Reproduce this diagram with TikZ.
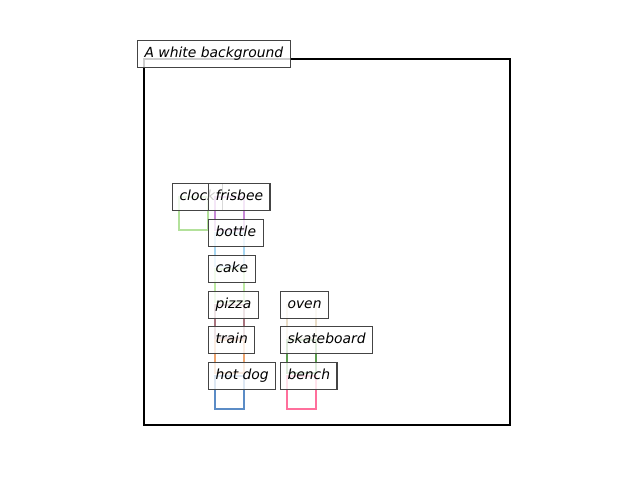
\documentclass[tikz,border=0pt]{standalone}
\usepackage{fontspec}
\setmainfont{DejaVu Sans}
\definecolor{clockc}{HTML}{B3E19B}
\definecolor{frisbeec}{HTML}{C98AD8}
\definecolor{bottlec}{HTML}{A5D6F2}
\definecolor{cakec}{HTML}{BDEBA3}
\definecolor{pizzac}{HTML}{A8747E}
\definecolor{trainc}{HTML}{EFA56E}
\definecolor{hotdogc}{HTML}{5B8CC6}
\definecolor{ovenc}{HTML}{E9DCC6}
\definecolor{skateboardc}{HTML}{5C9E4F}
\definecolor{benchc}{HTML}{FF6F9C}
\definecolor{edgec}{HTML}{444444}
\tikzset{
  tag/.style={draw=edgec, line width=0.8pt, fill=white, fill opacity=0.8, text opacity=1,
    anchor=west, font=\fontsize{10pt}{12pt}\selectfont\itshape,
    inner xsep=5pt, inner ysep=0pt, minimum height=19.6pt, text height=7.6pt, text depth=2.4pt},
  bbox/.style={line width=1.7pt},
}
\begin{document}
\begin{tikzpicture}[%
x=0.72pt, y=-0.72pt,
]
\useasboundingbox (0,0) rectangle (640,480);
%% frame;
\draw [line width=1.4pt, black] (144,59) rectangle (510,425);
\node [tag] (title) at (137,54) {A white background};
%% clock;
\draw [bbox, clockc] (179,197) rectangle ++(29,33);
\node [tag] (clock) at (172,197) {clock};
%% frisbee;
\draw [bbox, frisbeec] (215,197) rectangle ++(29,33);
\node [tag] (frisbee) at (208,197) {frisbee};
%% bottle;
\draw [bbox, bottlec] (215,233) rectangle ++(29,33);
\node [tag] (bottle) at (208,233) {bottle};
%% cake;
\draw [bbox, cakec] (215,269) rectangle ++(29,33);
\node [tag] (cake) at (208,269) {cake};
%% pizza;
\draw [bbox, pizzac] (215,305) rectangle ++(29,33);
\node [tag] (pizza) at (208,305) {pizza};
%% oven;
\draw [bbox, ovenc] (287,305) rectangle ++(29,33);
\node [tag] (oven) at (280,305) {oven};
%% train;
\draw [bbox, trainc] (215,340) rectangle ++(29,33);
\node [tag] (train) at (208,340) {train};
%% skateboard;
\draw [bbox, skateboardc] (287,340) rectangle ++(29,33);
\node [tag] (skateboard) at (280,340) {skateboard};
%% hot dog;
\draw [bbox, hotdogc] (215,376) rectangle ++(29,33);
\node [tag] (hotdog) at (208,376) {hot dog};
%% bench;
\draw [bbox, benchc] (287,376) rectangle ++(29,33);
\node [tag] (bench) at (280,376) {bench};
\end{tikzpicture}
\end{document}
